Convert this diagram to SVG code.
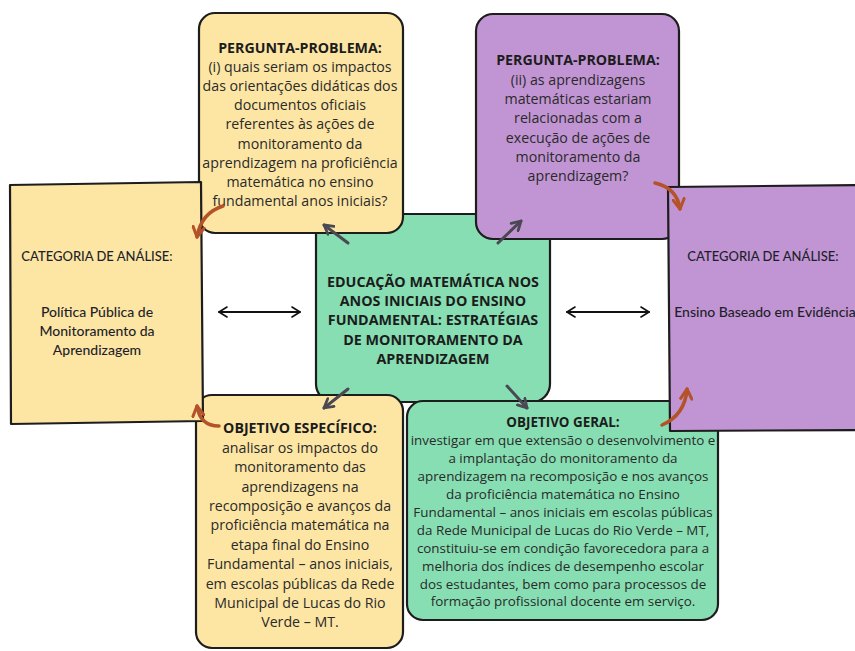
<svg xmlns="http://www.w3.org/2000/svg" width="855" height="651" viewBox="0 0 855 651">
<defs>
<style>
.box{stroke:#1d1d1d;stroke-width:2.2}
.y{fill:#fde6a4}
.p{fill:#c195d3}
.g{fill:#86deb2}
text{font-family:"Open Sans","Noto Sans",sans-serif;fill:#2a2a2a;text-anchor:middle;font-weight:500}
.t{font-size:14.2px}
.tg{font-size:13.4px}
.b{font-weight:700;fill:#1c1c1c}
.cat{font-family:Lato,"Noto Sans",sans-serif;fill:#1f1f2a;font-size:13px}
.cat2{font-size:14px}
.dark{stroke:#4a4953;stroke-width:3;fill:none;stroke-linecap:round}
.org{stroke:#b4532a;stroke-width:3.5;fill:none;stroke-linecap:round}
.dbl{stroke:#111;stroke-width:2;fill:none;stroke-linecap:round}
</style>
<marker id="mdark" viewBox="0 0 10 10" refX="8" refY="5" markerWidth="4.2" markerHeight="4.2" orient="auto" markerUnits="strokeWidth">
<path d="M1 1 L8 5 L1 9" fill="none" stroke="#4a4953" stroke-width="2.2" stroke-linecap="round" stroke-linejoin="round"/>
</marker>
<marker id="morg" viewBox="0 0 10 10" refX="8" refY="5" markerWidth="4" markerHeight="4" orient="auto" markerUnits="strokeWidth">
<path d="M1 1 L8 5 L1 9" fill="none" stroke="#b4532a" stroke-width="2.2" stroke-linecap="round" stroke-linejoin="round"/>
</marker>
<marker id="mblk" viewBox="0 0 12 12" refX="10" refY="6" markerWidth="6" markerHeight="6" orient="auto-start-reverse" markerUnits="strokeWidth">
<path d="M2 1 L10 6 L2 11" fill="none" stroke="#111" stroke-width="1.6" stroke-linecap="round" stroke-linejoin="round"/>
</marker>
</defs>
<rect width="855" height="651" fill="#ffffff"/>

<g id="center">
<rect class="box g" x="316" y="214" width="234" height="188" rx="18"/>
<text class="b" font-size="14.3"><tspan x="433" y="287">EDUCAÇÃO MATEMÁTICA NOS</tspan><tspan x="433" y="306">ANOS INICIAIS DO ENSINO</tspan><tspan x="433" y="325">FUNDAMENTAL: ESTRATÉGIAS</tspan><tspan x="433" y="345">DE MONITORAMENTO DA</tspan><tspan x="433" y="364">APRENDIZAGEM</tspan></text>
</g>

<g id="pergunta1">
<rect class="box y" x="199" y="13" width="204" height="220" rx="16"/>
<text class="t"><tspan class="b" x="300" y="53">PERGUNTA-PROBLEMA:</tspan><tspan x="300" y="72">(i) quais seriam os impactos</tspan><tspan x="300" y="91">das orientações didáticas dos</tspan><tspan x="300" y="110">documentos oficiais</tspan><tspan x="300" y="129">referentes às ações de</tspan><tspan x="300" y="149">monitoramento da</tspan><tspan x="300" y="168">aprendizagem na proficiência</tspan><tspan x="300" y="187">matemática no ensino</tspan><tspan x="300" y="206">fundamental anos iniciais?</tspan></text>
</g>

<g id="pergunta2">
<rect class="box p" x="476" y="14" width="203" height="225" rx="17"/>
<text class="t"><tspan class="b" x="578" y="65">PERGUNTA-PROBLEMA:</tspan><tspan x="578" y="85">(ii) as aprendizagens</tspan><tspan x="578" y="104">matemáticas estariam</tspan><tspan x="578" y="123">relacionadas com a</tspan><tspan x="578" y="143">execução de ações de</tspan><tspan x="578" y="162">monitoramento da</tspan><tspan x="578" y="181">aprendizagem?</tspan></text>
</g>

<g id="objetivo-especifico">
<rect class="box y" x="196" y="395" width="207" height="253" rx="16"/>
<text class="t"><tspan class="b" x="300" y="433">OBJETIVO ESPECÍFICO:</tspan><tspan x="300" y="453">analisar os impactos do</tspan><tspan x="300" y="472">monitoramento das</tspan><tspan x="300" y="492">aprendizagens na</tspan><tspan x="300" y="511">recomposição e avanços da</tspan><tspan x="300" y="530">proficiência matemática na</tspan><tspan x="300" y="550">etapa final do Ensino</tspan><tspan x="300" y="569">Fundamental – anos iniciais,</tspan><tspan x="300" y="589">em escolas públicas da Rede</tspan><tspan x="300" y="608">Municipal de Lucas do Rio</tspan><tspan x="300" y="627">Verde – MT.</tspan></text>
</g>

<g id="objetivo-geral">
<rect class="box g" x="407" y="401" width="311" height="219" rx="16"/>
<text class="tg"><tspan class="b" x="563" y="427">OBJETIVO GERAL:</tspan><tspan x="563" y="445">investigar em que extensão o desenvolvimento e</tspan><tspan x="563" y="463">a implantação do monitoramento da</tspan><tspan x="563" y="481">aprendizagem na recomposição e nos avanços</tspan><tspan x="563" y="499">da proficiência matemática no Ensino</tspan><tspan x="563" y="517">Fundamental – anos iniciais em escolas públicas</tspan><tspan x="563" y="535">da Rede Municipal de Lucas do Rio Verde – MT,</tspan><tspan x="563" y="553">constituiu-se em condição favorecedora para a</tspan><tspan x="563" y="571">melhoria dos índices de desempenho escolar</tspan><tspan x="563" y="589">dos estudantes, bem como para processos de</tspan><tspan x="563" y="606">formação profissional docente em serviço.</tspan></text>
</g>

<g id="categoria1">
<path class="box y" d="M10 185 L201 182 L203 421 L11 424 Z" stroke-width="2.5" stroke-linejoin="round"/>
<text class="cat"><tspan x="97" y="261">CATEGORIA DE ANÁLISE:</tspan><tspan class="cat2" x="97" y="317">Política Pública de</tspan><tspan class="cat2" x="97" y="336">Monitoramento da</tspan><tspan class="cat2" x="97" y="355">Aprendizagem</tspan></text>
</g>

<g id="categoria2">
<path class="box p" d="M668 187 L860 185 L860 430 L670 431 Z" stroke-width="2.5" stroke-linejoin="round"/>
<text class="cat"><tspan x="763" y="261">CATEGORIA DE ANÁLISE:</tspan><tspan class="cat2" x="765" y="317">Ensino Baseado em Evidência</tspan></text>
</g>

<g id="connectors">
<line class="dark" x1="348" y1="243" x2="324" y2="225" marker-end="url(#mdark)"/>
<line class="dark" x1="498" y1="243" x2="521" y2="221" marker-end="url(#mdark)"/>
<line class="dark" x1="348" y1="389" x2="324" y2="408" marker-end="url(#mdark)"/>
<line class="dark" x1="507" y1="386" x2="527" y2="408" marker-end="url(#mdark)"/>
<line class="dbl" x1="219" y1="312" x2="300" y2="312" marker-start="url(#mblk)" marker-end="url(#mblk)"/>
<line class="dbl" x1="567" y1="312" x2="649" y2="312" marker-start="url(#mblk)" marker-end="url(#mblk)"/>
<path class="org" d="M223 206 Q201 213 197 237" marker-end="url(#morg)"/>
<path class="org" d="M219 426 Q200 426 197 406" marker-end="url(#morg)"/>
<path class="org" d="M655 183 Q677 188 680 209" marker-end="url(#morg)"/>
<path class="org" d="M662 425 Q685 415 687 389" marker-end="url(#morg)"/>
</g>
</svg>
